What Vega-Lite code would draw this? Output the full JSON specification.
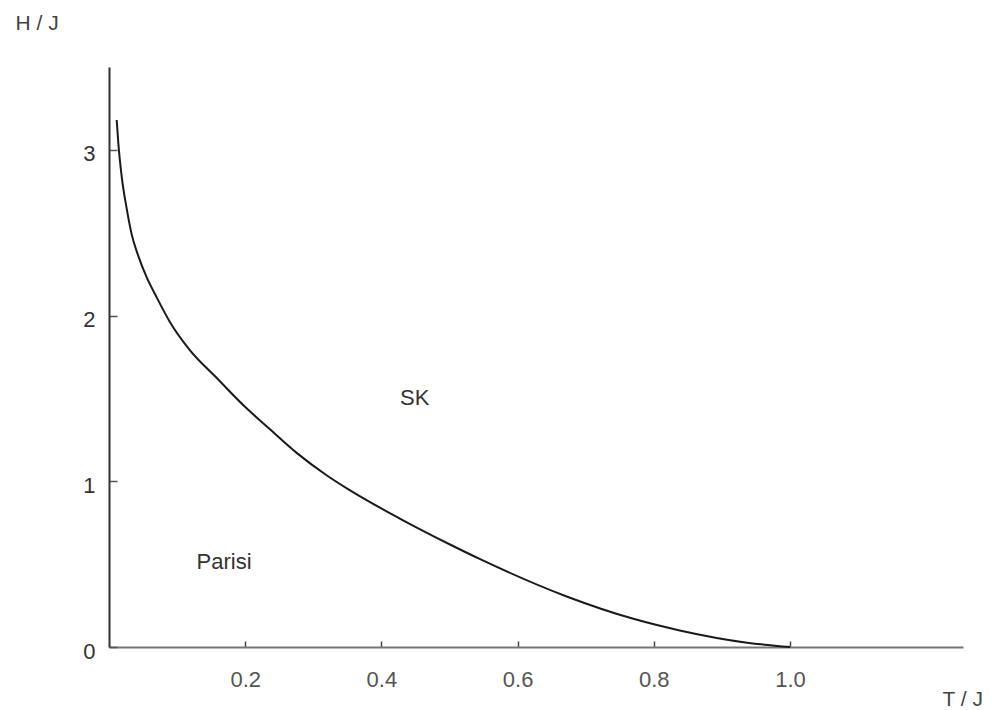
{
  "$schema": "https://vega.github.io/schema/vega-lite/v6.json",
  "width": 854,
  "height": 580,
  "autosize": "none",
  "padding": {"left": 109, "top": 67, "right": 44, "bottom": 63},
  "background": "white",
  "config": {
    "view": {"stroke": null},
    "font": "Liberation Sans"
  },
  "datasets": {
    "curve": [
      {"T": 0.0113, "H": 3.18},
      {"T": 0.0137, "H": 3.04},
      {"T": 0.0186, "H": 2.84},
      {"T": 0.026, "H": 2.645},
      {"T": 0.0333, "H": 2.49},
      {"T": 0.043, "H": 2.36},
      {"T": 0.0554, "H": 2.23},
      {"T": 0.07, "H": 2.11},
      {"T": 0.0896, "H": 1.96},
      {"T": 0.119, "H": 1.79},
      {"T": 0.159, "H": 1.62},
      {"T": 0.197, "H": 1.46},
      {"T": 0.236, "H": 1.315},
      {"T": 0.276, "H": 1.17},
      {"T": 0.32, "H": 1.035},
      {"T": 0.354, "H": 0.945},
      {"T": 0.427, "H": 0.775},
      {"T": 0.5, "H": 0.62},
      {"T": 0.545, "H": 0.53},
      {"T": 0.672, "H": 0.305},
      {"T": 0.77, "H": 0.17},
      {"T": 0.838, "H": 0.1},
      {"T": 0.937, "H": 0.026},
      {"T": 1.0, "H": 0.0}
    ],
    "labels": [
      {"T": 0.449, "H": 1.5, "label": "SK"},
      {"T": 0.169, "H": 0.512, "label": "Parisi"}
    ]
  },
  "layer": [
    {
      "data": {"name": "curve"},
      "mark": {"type": "line", "color": "#1a1a1a", "strokeWidth": 2, "interpolate": "monotone", "clip": false},
      "encoding": {
        "x": {
          "field": "T", "type": "quantitative",
          "scale": {"domain": [0, 1.254], "nice": false, "zero": false},
          "axis": {
            "values": [0.2, 0.4, 0.6, 0.8, 1.0],
            "format": ".1f",
            "grid": false,
            "domainColor": "#777",
            "domainWidth": 2,
            "tickColor": "#444",
            "tickWidth": 1.5,
            "tickSize": -6,
            "labelPadding": 28,
            "labelFontSize": 22,
            "labelColor": "#555",
            "title": "T / J",
            "titleFontSize": 21,
            "titleFontWeight": "normal",
            "titleColor": "#444",
            "titleAlign": "left",
            "titleAnchor": "start",
            "titleX": 833,
            "titleY": 58,
            "titleBaseline": "alphabetic"
          }
        },
        "y": {
          "field": "H", "type": "quantitative",
          "scale": {"domain": [0, 3.5], "nice": false, "zero": false},
          "axis": {
            "values": [0, 1, 2, 3],
            "format": "d",
            "grid": false,
            "domainColor": "#333",
            "domainWidth": 2,
            "tickColor": "#555",
            "tickWidth": 1.5,
            "tickSize": -8,
            "labelPadding": 22,
            "labelFontSize": 22,
            "labelColor": "#333",
            "labelOffset": 4,
            "title": "H / J",
            "titleAngle": 0,
            "titleFontSize": 21,
            "titleFontWeight": "normal",
            "titleColor": "#444",
            "titleAlign": "left",
            "titleAnchor": "start",
            "titleX": -94,
            "titleY": -38,
            "titleBaseline": "alphabetic"
          }
        }
      }
    },
    {
      "data": {"name": "labels"},
      "mark": {"type": "text", "fontSize": 22, "color": "#333", "align": "center", "baseline": "middle"},
      "encoding": {
        "x": {"field": "T", "type": "quantitative"},
        "y": {"field": "H", "type": "quantitative"},
        "text": {"field": "label"}
      }
    }
  ]
}
